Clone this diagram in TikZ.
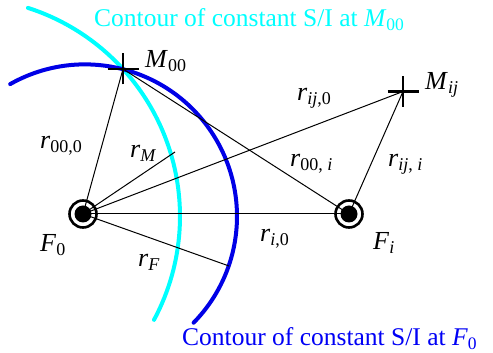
\documentclass[tikz,border=0pt]{standalone}
\usepackage{fontspec}
\setmainfont{Liberation Serif}
\definecolor{cyanc}{RGB}{0,255,255}
\definecolor{bluec}{RGB}{0,0,230}
\definecolor{bluet}{RGB}{0,0,245}
\newcommand\lbl[2]{\textit{#1}\raisebox{-0.14em}{\fontsize{18}{19}\selectfont #2}}
\newcommand\lblc[2]{\textit{#1}\raisebox{-0.14em}{\fontsize{17.5}{19}\selectfont #2}}
\tikzset{
  contour/.style={line width=4pt, line cap=round},
  thin/.style={line width=1pt, black},
  crossmark/.style={line width=2.4pt, black},
  lab/.style={anchor=base west, inner sep=0pt, font=\fontsize{26}{29}\selectfont},
  captiontext/.style={anchor=base west, inner sep=0pt, font=\fontsize{25.5}{29}\selectfont},
}
\begin{document}
\begin{tikzpicture}[x=1pt,y=1pt]
\useasboundingbox (0,0) rectangle (493,353);
% contours
\draw[contour, cyanc] (-39,136.6) ++(72.2:219) arc[start angle=72.2, end angle=-28.2, radius=219];
\draw[contour, bluec] (85,136.6) ++(119.5:152) arc[start angle=119.5, end angle=-44.4, radius=152];
% points
\coordinate (F0) at (83,139);
\coordinate (Fi) at (349,139);
\coordinate (M00) at (123,284);
\coordinate (Mij) at (403,261.5);
\coordinate (rMend) at (175,201);
\coordinate (rFend) at (229,87);
% distances
\draw[thin] (F0) -- (M00);
\draw[thin] (M00) -- (Fi);
\draw[thin] (F0) -- (Mij);
\draw[thin] (Mij) -- (Fi);
\draw[thin] (F0) -- (Fi);
\draw[thin] (F0) -- (rMend);
\draw[thin] (F0) -- (rFend);
% crosses
\foreach \p in {M00,Mij}{
  \draw[crossmark] ([xshift=-15.5pt]\p) -- ([xshift=15.5pt]\p);
  \draw[crossmark] ([yshift=-15.5pt]\p) -- ([yshift=15.5pt]\p);
}
% transmitters
\foreach \p in {F0,Fi}{
  \fill[black] (\p) circle[radius=8.5];
  \draw[line width=2.6pt] (\p) circle[radius=13.5];
}
% labels
\node[lab] (lM00) at (145,285) {\lbl{M}{00}};
\node[lab] (lMij) at (425,263) {\lbl{M}{\textit{ij}}};
\node[lab] (lr000) at (40,204) {\lbl{r}{00,0}};
\node[lab] (lrM) at (130,195) {\lbl{r}{\textit{M}}};
\node[lab] (lrij0) at (297,252) {\lbl{r}{\textit{ij},0}};
\node[lab] (lr00i) at (290,186) {\lbl{r}{00, \textit{i}}};
\node[lab] (lriji) at (388,186) {\lbl{r}{\textit{ij}, \textit{i}}};
\node[lab] (lF0) at (40,101) {\lbl{F}{0}};
\node[lab] (lrF) at (138,86) {\lbl{r}{\textit{F}}};
\node[lab] (lri0) at (260,111) {\lbl{r}{\textit{i},0}};
\node[lab] (lFi) at (373,103) {\lbl{F}{\textit{i}}};
\node[captiontext, text=cyanc] (capM) at (94,326) {Contour of constant S/I at \lblc{M}{00}};
\node[captiontext, text=bluet] (capF) at (182,7) {Contour of constant S/I at \lblc{F}{0}};
\end{tikzpicture}
\end{document}
